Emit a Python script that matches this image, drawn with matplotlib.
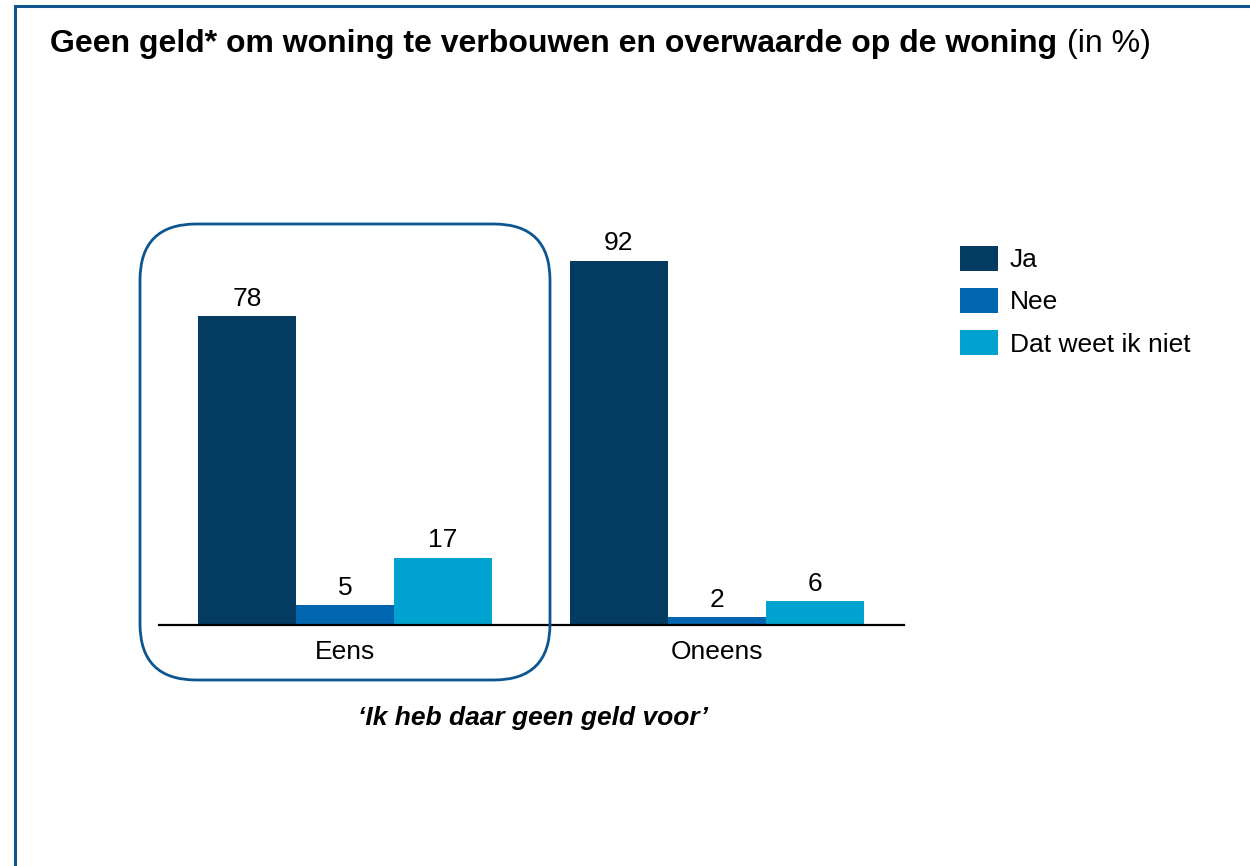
import matplotlib.pyplot as plt
import numpy as np
from matplotlib.patches import FancyBboxPatch, Rectangle

plt.rcParams["font.family"] = ["Liberation Sans", "DejaVu Sans"]

categories = ["Eens", "Oneens"]
series_names = ["Ja", "Nee", "Dat weet ik niet"]
ja = [78, 92]
nee = [5, 2]
weet_niet = [17, 6]

colors = ["#033B61", "#0066B0", "#00A3CF"]
frame_color = "#0D5590"

W, H = 1250, 866
fig = plt.figure(figsize=(W / 100, H / 100), dpi=100)


def fx(px):
    return px / W


def fy(py):
    return 1 - py / H


# outer frame (only top and left edges visible)
fig.patches.append(
    Rectangle((fx(15), -0.1), 1.2, fy(6) + 0.1, transform=fig.transFigure,
              fill=False, edgecolor=frame_color, linewidth=2.2)
)

ax = fig.add_axes([fx(159), fy(625), fx(904) - fx(159), (625 - 229) / H])
x = np.arange(len(categories))
width = 0.2634
for i, (vals, name) in enumerate(zip([ja, nee, weet_niet], series_names)):
    bars = ax.bar(x + (i - 1) * width, vals, width, color=colors[i], label=name)
    ax.bar_label(bars, padding=4, fontsize=19, color="black")

ax.set_xlim(-0.5, 1.503)
ax.set_ylim(0, 100)
ax.set_xticks(x)
ax.set_xticklabels(categories, fontsize=19)
ax.tick_params(axis="x", length=0, pad=11)
ax.set_yticks([])
for s in ["top", "right", "left"]:
    ax.spines[s].set_visible(False)
ax.spines["bottom"].set_linewidth(1.6)
ax.set_facecolor("none")

# rounded highlight box around "Eens"
fig.patches.append(
    FancyBboxPatch((fx(140), fy(680)), fx(550) - fx(140), (680 - 224) / H,
                   boxstyle="round,pad=0,rounding_size=0.045",
                   transform=fig.transFigure, fill=False,
                   edgecolor=frame_color, linewidth=2.0,
                   mutation_aspect=W / H)
)

fig.legend(loc="upper left", bbox_to_anchor=(fx(960), fy(246)), frameon=False,
           fontsize=19, handlelength=1.44, handleheight=1.06,
           handletextpad=0.45, labelspacing=0.6, borderpad=0, borderaxespad=0)

# title: bold part plus normal "(in %)"
t = fig.text(fx(50), fy(52), "Geen geld* om woning te verbouwen en overwaarde op de woning",
             fontsize=23, fontweight="bold", va="baseline", ha="left")
fig.canvas.draw()
bb = t.get_window_extent(renderer=fig.canvas.get_renderer())
fig.text((bb.x1 + 10) / W, fy(52), "(in %)", fontsize=23, va="baseline", ha="left")

fig.text(fx(533), fy(718), "\u2018Ik heb daar geen geld voor\u2019", fontsize=19,
         fontweight="bold", fontstyle="italic", ha="center", va="center")

fig.savefig("out.png", dpi=100)
